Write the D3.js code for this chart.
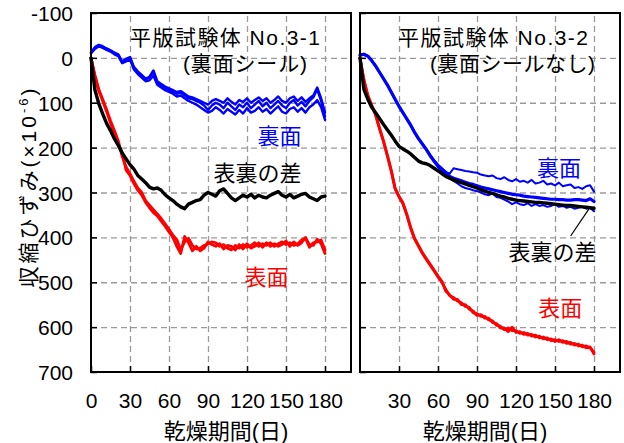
<!DOCTYPE html>
<html>
<head>
<meta charset="utf-8">
<script src="https://cdn.jsdelivr.net/npm/d3@7"></script>
<style>
  body { margin: 0; background: #fff; }
  svg { display: block; }
  text { font-family: "Liberation Sans", Arial, "Noto Sans CJK JP", sans-serif; fill: #000; }
  .grid line { stroke: #9a9a9a; stroke-width: 1.3; stroke-dasharray: 6,4; }
  .grid path { display: none; }
  .axis path { display: none; }
  .axis line { stroke: #000; stroke-width: 1.5; }
  .axis text { font-size: 21px; }
  .series { fill: none; stroke-linejoin: round; stroke-linecap: round; }
</style>
</head>
<body>
<div id="chart"></div>
<script>
// drying days (shared by every series)
var days = [0,3,6,9,12,15,18,21,24,27,30,33,36,39,42,45,48,51,54,57,60,
  63,66,69,72,75,78,81,84,87,90,93,96,99,102,105,108,111,114,117,120,
  123,126,129,132,135,138,141,144,147,150,153,156,159,162,165,168,171,174,177,180];

var xTicks = [0, 30, 60, 90, 120, 150, 180];
var yTicks = [-100, 0, 100, 200, 300, 400, 500, 600, 700];
var gridX = [30, 60, 90, 120, 150, 180];
var gridY = [0, 100, 200, 300, 400, 500, 600];

// No.3-1 (back face sealed)
var red31a = [0,38,70,92,115,140,162,185,220,243,258,275,290,300,318,328,338,348,358,370,382,
  395,405,428,410,402,418,426,424,418,415,410,412,420,416,424,428,418,424,416,422,
  418,412,420,414,418,412,420,414,410,416,412,418,414,406,402,422,412,410,406,428];
var red31b = [0,42,74,96,120,145,168,192,212,250,262,280,295,306,322,334,345,352,364,375,388,
  400,420,436,398,412,430,420,430,424,410,416,420,414,426,418,420,428,416,426,414,
  424,420,412,422,412,420,414,420,416,408,420,410,418,412,400,416,418,404,414,436];
var blue31a = [-12,-22,-28,-24,-20,-16,-10,-6,10,4,0,22,34,40,48,44,30,56,62,68,72,
  76,80,78,84,90,92,96,100,106,116,106,100,104,112,100,108,116,104,110,100,
  112,104,96,108,100,112,104,96,106,112,100,94,106,98,108,96,88,70,96,130];
var blue31b = [-10,-20,-26,-22,-18,-14,-8,-4,12,8,4,26,36,44,52,50,40,60,66,72,76,
  80,86,84,90,96,100,104,110,116,122,118,110,116,124,114,120,126,116,124,112,
  122,118,110,120,114,124,116,108,120,124,114,110,120,112,122,110,104,94,110,138];
var blue31c = [-12,-24,-29,-26,-21,-17,-12,-8,8,2,-2,20,30,38,46,42,28,52,58,64,68,
  72,76,74,80,86,88,92,96,100,104,96,92,96,100,90,98,104,94,98,90,
  100,94,88,96,90,100,94,86,96,100,90,86,96,88,98,90,84,66,90,122];
var diff31 = [0,71,102,125,146,162,180,195,212,225,238,248,262,270,278,288,292,290,295,305,312,
  318,326,332,336,326,322,318,316,306,300,304,308,296,292,302,312,318,312,306,310,
  304,312,306,310,312,306,302,298,306,310,304,312,308,304,302,310,314,318,310,308];

// No.3-2 (no seal)
var red32a = [0,50,85,107,128,158,186,218,252,292,310,325,350,380,404,420,436,449,462,475,488,
  500,516,530,534,542,546,554,556,568,570,576,576,584,586,596,598,606,602,608,608,
  614,612,618,616,622,620,626,624,630,628,632,630,636,634,640,638,644,642,646,656];
var red32b = [0,48,83,105,126,156,184,216,250,290,308,323,348,378,402,418,434,447,460,473,486,
  498,520,528,538,538,550,550,560,564,574,572,580,580,590,592,602,602,610,600,612,
  610,616,614,620,618,624,622,628,626,632,628,634,632,638,636,642,640,646,644,660];
var blue32mid = [-6,-8,-4,6,18,32,46,60,76,92,108,122,136,150,166,180,192,204,218,230,240,
  248,256,264,268,271,274,277,280,282,285,288,290,292,294,296,298,300,302,304,305,
  306,308,309,310,311,312,313,314,315,315,316,316,317,317,316,316,317,318,314,320];
var blue32up = [-7,-9,-5,5,17,31,45,59,75,91,107,121,135,149,165,179,191,203,216,228,238,
  246,254,258,246,248,250,252,253,255,256,260,262,264,262,268,270,266,272,275,270,
  276,274,278,272,280,278,274,282,280,284,278,286,284,282,290,288,292,286,284,298];
var blue32low = [-5,-7,-3,7,19,33,47,61,77,93,109,123,137,151,167,181,193,205,219,232,244,
  252,260,268,274,280,286,290,292,295,297,300,304,306,302,310,312,316,320,326,322,
  326,328,324,330,326,330,328,332,330,326,332,330,334,332,336,334,332,336,334,342];
var diff32 = [0,70,92,110,122,135,148,160,172,185,197,203,208,214,222,230,234,236,240,246,252,
  258,264,268,272,275,278,281,284,287,290,294,297,300,302,305,308,310,313,315,317,
  318,319,320,321,322,322,323,324,325,326,327,328,329,329,330,331,332,333,334,335];

var W = 624, H = 443;
var y = d3.scaleLinear().domain([-100, 700]).range([13, 372]);
var xL = d3.scaleLinear().domain([0, 200]).range([91, 351]);
var xR = d3.scaleLinear().domain([0, 200]).range([360, 620]);

var svg = d3.select("#chart").append("svg").attr("width", W).attr("height", H);

function panel(x, opts) {
  var g = svg.append("g");
  var x0 = x.range()[0], x1 = x.range()[1];
  var y0 = y.range()[0], y1 = y.range()[1];

  // dashed grid
  g.append("g").attr("class", "grid")
      .attr("transform", "translate(" + x0 + ",0)")
      .call(d3.axisLeft(y).tickValues(gridY).tickSize(-(x1 - x0)).tickFormat(""));
  g.append("g").attr("class", "grid")
      .attr("transform", "translate(0," + y1 + ")")
      .call(d3.axisBottom(x).tickValues(gridX).tickSize(-(y1 - y0)).tickFormat(""));

  // lines
  var line = d3.line().x(function(d, i) { return x(days[i]); }).y(function(d) { return y(d); });
  opts.series.forEach(function(s) {
    g.append("path").datum(s.data).attr("class", "series")
        .attr("stroke", s.color).attr("stroke-width", s.w).attr("d", line);
  });

  // axes with inward ticks
  var ya = d3.axisLeft(y).tickValues(yTicks).tickSize(-6).tickPadding(18)
      .tickFormat(opts.yLabels ? function(d) { return String(d); } : "");
  g.append("g").attr("class", "axis").attr("transform", "translate(" + x0 + ",0)").call(ya)
      .selectAll(".tick text").attr("dy", "0.36em");
  var xa = d3.axisBottom(x).tickValues(opts.xLabelTicks).tickSize(-6).tickPadding(21);
  g.append("g").attr("class", "axis").attr("transform", "translate(0," + y1 + ")").call(xa);

  // frame
  g.append("rect").attr("x", x0).attr("y", y0).attr("width", x1 - x0).attr("height", y1 - y0)
      .attr("fill", "none").attr("stroke", "#000").attr("stroke-width", 2);

  // titles
  opts.title.forEach(function(t) {
    g.append("text").attr("x", t.x).attr("y", t.y).attr("font-size", 21)
        .attr("textLength", t.len).attr("lengthAdjust", "spacing").text(t.text);
  });
  opts.labels.forEach(function(l) {
    g.append("text").attr("x", x(l.day)).attr("y", y(l.val)).attr("text-anchor", "middle")
        .attr("font-size", 22).style("fill", l.color).text(l.text);
  });

  // x axis title
  g.append("text").attr("x", (x0 + x1) / 2 + opts.xtDx).attr("y", opts.xtY)
      .attr("text-anchor", "middle").attr("font-size", 22).text("乾燥期間(日)");
  return g;
}

panel(xL, {
  yLabels: true,
  xLabelTicks: xTicks,
  series: [
    { data: red31a, color: "#ff0000", w: 2.8 },
    { data: red31b, color: "#ff0000", w: 2.8 },
    { data: blue31a, color: "#0000ff", w: 2.4 },
    { data: blue31b, color: "#0000ff", w: 2.4 },
    { data: blue31c, color: "#0000ff", w: 2.4 },
    { data: diff31, color: "#000000", w: 3.4 }
  ],
  title: [
    { text: "平版試験体 No.3-1", x: 130, y: 45, len: 190 },
    { text: "(裏面シール)", x: 183, y: 71, len: 124 }
  ],
  labels: [
    { text: "裏面", day: 145, val: 191, color: "#0000ff" },
    { text: "表裏の差", day: 128, val: 274, color: "#000" },
    { text: "表面", day: 135, val: 506, color: "#ff0000" }
  ],
  xtDx: 5, xtY: 439
});

var gR = panel(xR, {
  yLabels: false,
  xLabelTicks: xTicks.slice(1),
  series: [
    { data: red32a, color: "#ff0000", w: 2.8 },
    { data: red32b, color: "#ff0000", w: 2.8 },
    { data: blue32up, color: "#0000ff", w: 2 },
    { data: blue32low, color: "#0000ff", w: 2 },
    { data: blue32mid, color: "#0000ff", w: 3.2 },
    { data: diff32, color: "#000000", w: 3.4 }
  ],
  title: [
    { text: "平版試験体 No.3-2", x: 398, y: 45, len: 190 },
    { text: "(裏面シールなし)", x: 430, y: 71, len: 165 }
  ],
  labels: [
    { text: "裏面", day: 153, val: 264, color: "#0000ff" },
    { text: "表裏の差", day: 148, val: 450, color: "#000" },
    { text: "表面", day: 154, val: 575, color: "#ff0000" }
  ],
  xtDx: -5, xtY: 439
});

// leader line for the difference label
gR.append("line")
    .attr("x1", xR(176)).attr("y1", y(337)).attr("x2", xR(162)).attr("y2", y(397))
    .attr("stroke", "#000").attr("stroke-width", 1.2);

// y axis title
var yt = svg.append("text").attr("transform", "translate(36,188) rotate(-90)")
    .attr("text-anchor", "middle").attr("font-size", 21)
    .attr("textLength", 199).attr("lengthAdjust", "spacing");
yt.append("tspan").text("収縮ひずみ(×10");
yt.append("tspan").attr("font-size", 13).attr("dy", -8).text("-6");
yt.append("tspan").attr("dy", 8).text(")");
</script>
</body>
</html>
